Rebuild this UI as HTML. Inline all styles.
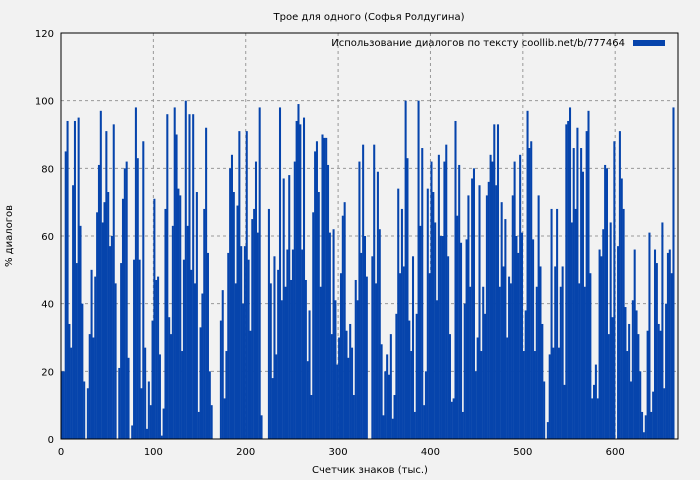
<!DOCTYPE html>
<html><head><meta charset="utf-8">
<style>
body{margin:0;background:#f2f2f2;}
svg{display:block;font-family:"DejaVu Sans","Liberation Sans",sans-serif;}
</style></head>
<body>
<svg id="chart" width="700" height="480" viewBox="0 0 700 480" xmlns="http://www.w3.org/2000/svg">
<rect x="0" y="0" width="700" height="480" fill="#f2f2f2"/>
<text x="369" y="20" font-size="10" text-anchor="middle" fill="#000">Трое для одного (Софья Ролдугина)</text>
<g id="grid"></g>
<g id="bars"></g>
<rect x="61" y="33" width="617" height="406" fill="none" stroke="#000" stroke-width="1"/>
<g id="ticks"></g>
<text x="370" y="473" font-size="10" text-anchor="middle">Счетчик знаков (тыс.)</text>
<text transform="translate(12,236) rotate(-90)" font-size="10" text-anchor="middle">% диалогов</text>
<g>
<text x="625" y="46" font-size="10" text-anchor="end">Использование диалогов по тексту coollib.net/b/777464</text>
<rect x="633" y="40" width="32" height="6" fill="#0644ac"/>
</g>
</svg>
<script>
const xTicks = [0,100,200,300,400,500,600];
const yTicks = [0,20,40,60,80,100,120];
const step = 2;
const values = [
20,20,85,94,34,27,75,94,52,95,63,40,17,0,15,31,50,30,48,67,81,97,64,70,91,73,57,60,93,46,0,21,52,71,80,82,24,0,4,53,98,83,53,15,88,27,3,17,10,35,71,47,48,25,1,9,68,96,36,31,63,98,90,74,72,26,53,
100,63,96,50,96,46,73,8,33,43,68,92,55,20,10,0,0,0,0,35,44,12,26,55,80,84,73,46,69,91,57,40,57,91,53,32,65,68,82,61,98,7,0,0,0,68,46,18,54,25,50,98,41,77,45,56,78,47,56,82,94,99,93,56,95,47,23,
38,13,67,85,88,73,45,90,89,89,81,61,31,62,41,22,30,49,66,70,32,24,34,27,13,47,41,82,55,87,60,48,0,0,54,87,46,79,62,28,7,20,25,19,31,6,13,37,74,49,68,51,100,83,35,26,54,8,37,100,63,86,10,20,74,49,82,
73,64,41,84,60,60,82,87,54,31,11,12,94,66,81,58,8,40,59,72,45,77,80,20,30,75,26,45,37,72,76,84,82,93,75,93,45,70,51,65,30,48,46,72,82,60,55,84,61,26,38,97,86,88,59,26,45,72,51,34,17,0,5,25,68,27,51,
68,27,45,51,16,93,94,98,64,86,68,92,46,86,79,45,91,97,49,12,16,22,12,56,54,62,81,80,31,64,36,88,0,57,91,77,68,39,26,34,17,41,56,38,31,20,8,2,7,32,61,8,14,56,52,34,32,64,15,40,55,56,49,98
];
const X0=61,X1=678,Y0=439,Y1=33,XMAX=668,YMAX=120;
const xs=v=>X0+v*(X1-X0)/XMAX;
const ys=v=>Y0-v*(Y0-Y1)/YMAX;
const NS="http://www.w3.org/2000/svg";
const grid=document.getElementById('grid'),bars=document.getElementById('bars'),ticks=document.getElementById('ticks');
function mk(t,a,p){const e=document.createElementNS(NS,t);for(const k in a)e.setAttribute(k,a[k]);p.appendChild(e);return e;}
yTicks.forEach(v=>{
  const y=ys(v);
  if(v>0&&v<120){const g=mk('line',{x1:X0,x2:X1,y1:y,y2:y,stroke:'#999','stroke-dasharray':'3,3'},grid);
  
  }
  const t=mk('text',{x:X0-7,y:y+4,'font-size':10,'text-anchor':'end'},ticks);t.textContent=v;
  
  
});
xTicks.forEach(v=>{
  const x=xs(v);
  if(v>0){const g=mk('line',{x1:x,x2:x,y1:Y1,y2:Y0,stroke:'#999','stroke-dasharray':'3,3'},grid);
  
  }
  const t=mk('text',{x:x,y:Y0+16,'font-size':10,'text-anchor':'middle'},ticks);t.textContent=v;
  
  
});
values.forEach((v,i)=>{
  const xa=xs(i*step),xb=xs((i+1)*step);
  const b=mk('rect',{x:xa,y:ys(v),width:xb-xa+0.2,height:Y0-ys(v),fill:'#0644ac'},bars);
  
  
});
</script>
</body></html>
